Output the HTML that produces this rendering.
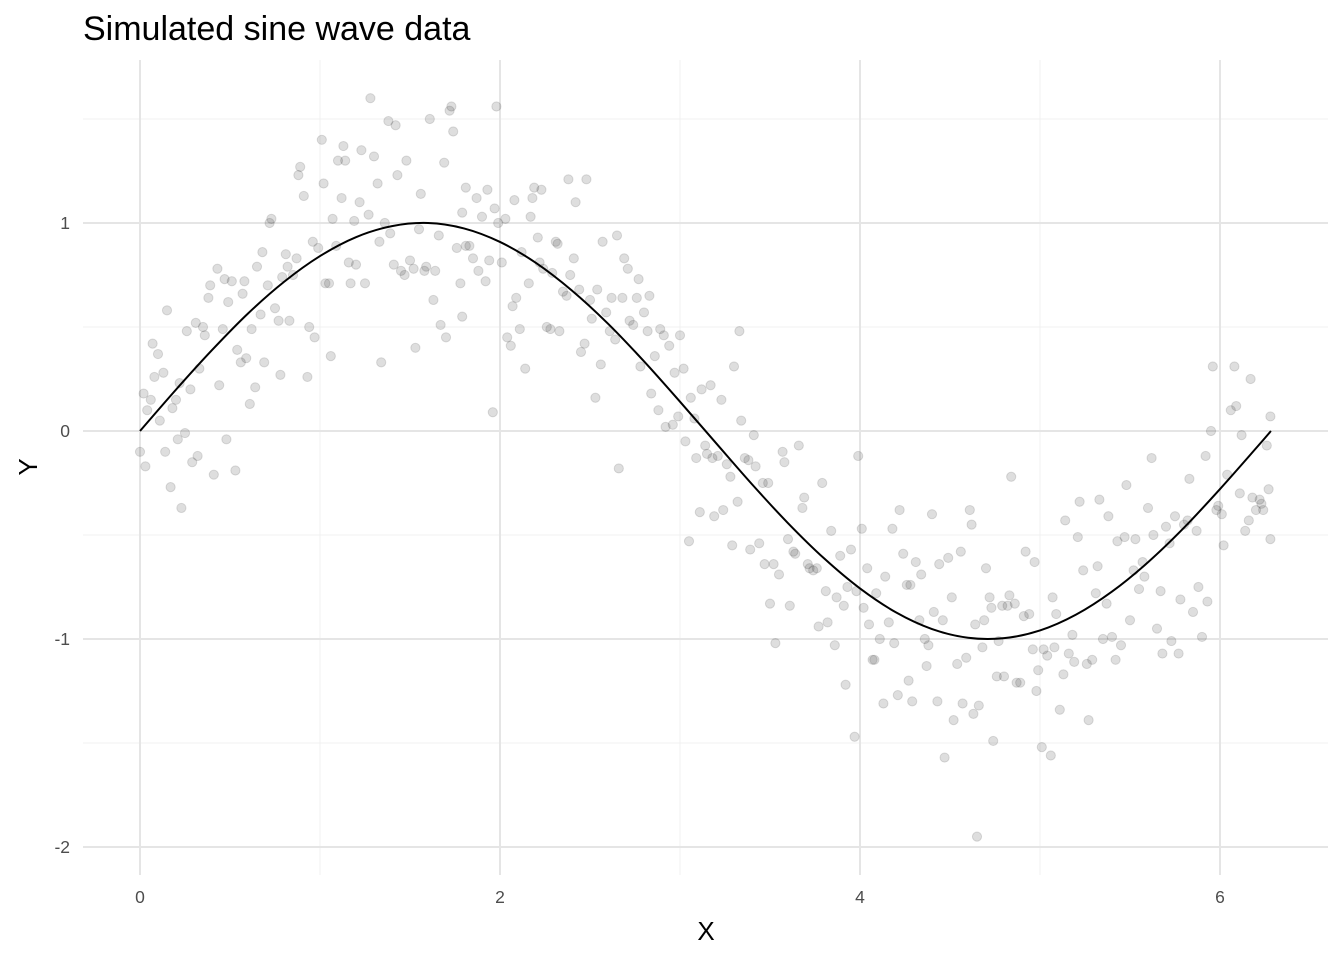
<!DOCTYPE html>
<html><head><meta charset="utf-8"><style>
body{margin:0;background:#fff;}
svg{display:block;font-family:"Liberation Sans",Arial,sans-serif;}
</style></head><body>
<svg id="chart" width="1344" height="960">
<text x="83" y="40" font-size="34" fill="#000">Simulated sine wave data</text>
<g id="grid"></g>
<g id="pts"></g>
<g id="line"></g>
<g id="ticks"></g>
<text x="706" y="940" font-size="26" text-anchor="middle" fill="#000">X</text>
<text x="0" y="0" font-size="26" text-anchor="middle" fill="#000" transform="translate(37,467) rotate(-90)">Y</text>
</svg>
<script>
const xTicks=[0,2,4,6];
const yTicks=[-2,-1,0,1];
const xMinor=[1,3,5];
const yMinor=[-1.5,-0.5,0.5,1.5];
const curveX=[0,0.2,0.4,0.6,0.8,1.0,1.2,1.4,1.6,1.8,2.0,2.2,2.4,2.6,2.8,3.0,3.2,3.4,3.6,3.8,4.0,4.2,4.4,4.6,4.8,5.0,5.2,5.4,5.6,5.8,6.0,6.2,6.283];
const curveY=[0,0.199,0.389,0.565,0.717,0.841,0.932,0.985,1.0,0.974,0.909,0.808,0.675,0.516,0.335,0.141,-0.058,-0.256,-0.443,-0.612,-0.757,-0.872,-0.952,-0.994,-0.996,-0.959,-0.883,-0.772,-0.631,-0.465,-0.279,-0.083,0];
const pointX=[0,0.02,0.03,0.04,0.06,0.07,0.08,0.1,0.11,0.13,0.14,0.15,0.17,0.18,0.2,0.21,0.22,0.23,0.25,0.26,0.28,0.29,0.31,0.32,0.33,0.35,0.36,0.38,0.39,0.41,0.43,0.44,0.46,0.47,0.48,0.49,0.51,0.53,0.54,0.56,0.57,0.58,0.59,0.61,0.62,0.64,0.65,0.67,0.68,0.69,0.71,0.72,0.73,0.75,0.77,0.78,0.79,0.81,0.82,0.83,0.85,0.87,0.88,0.89,0.91,0.93,0.94,0.96,0.97,0.99,1.01,1.02,1.03,1.05,1.06,1.07,1.09,1.1,1.12,1.13,1.14,1.16,1.17,1.19,1.2,1.22,1.23,1.25,1.27,1.28,1.3,1.32,1.33,1.34,1.36,1.38,1.39,1.41,1.42,1.43,1.45,1.47,1.48,1.5,1.52,1.53,1.55,1.56,1.58,1.59,1.61,1.63,1.64,1.66,1.67,1.69,1.7,1.72,1.73,1.74,1.76,1.78,1.79,1.81,1.79,1.81,1.83,1.85,1.87,1.88,1.9,1.92,1.93,1.94,1.96,1.97,1.98,1.99,2.01,2.03,2.04,2.06,2.07,2.08,2.09,2.11,2.12,2.14,2.16,2.17,2.18,2.19,2.21,2.22,2.23,2.24,2.26,2.28,2.29,2.31,2.32,2.33,2.35,2.37,2.38,2.39,2.41,2.42,2.44,2.45,2.47,2.48,2.5,2.51,2.53,2.54,2.56,2.57,2.59,2.61,2.62,2.64,2.65,2.66,2.68,2.69,2.71,2.72,2.74,2.76,2.77,2.78,2.8,2.82,2.83,2.84,2.86,2.88,2.89,2.91,2.92,2.94,2.96,2.97,2.99,3.0,3.02,3.03,3.05,3.06,3.08,3.09,3.11,3.12,3.14,3.15,3.17,3.18,3.19,3.21,3.23,3.24,3.26,3.28,3.29,3.3,3.32,3.33,3.34,3.36,3.38,3.39,3.41,3.42,3.44,3.46,3.47,3.49,3.5,3.52,3.53,3.55,3.57,3.58,3.6,3.61,3.63,3.64,3.66,3.68,3.69,3.71,3.72,3.74,3.76,3.77,3.79,3.81,3.82,3.84,3.86,3.87,3.89,3.91,3.92,3.93,3.95,3.97,3.98,3.99,4.01,4.02,4.04,4.05,4.07,4.08,4.09,4.11,4.13,4.14,4.16,4.18,4.19,4.21,4.22,4.24,4.26,4.27,4.28,4.29,4.31,4.33,4.34,4.36,4.37,4.38,4.4,4.41,4.43,4.44,4.46,4.47,4.49,4.51,4.52,4.54,4.56,4.57,4.59,4.61,4.62,4.63,4.64,4.65,4.66,4.68,4.69,4.7,4.72,4.73,4.74,4.76,4.77,4.79,4.8,4.82,4.83,4.84,4.86,4.87,4.89,4.91,4.92,4.94,4.96,4.97,4.98,4.99,5.01,5.02,5.04,5.06,5.07,5.08,5.09,5.11,5.13,5.14,5.16,5.18,5.19,5.21,5.22,5.24,5.26,5.27,5.29,5.31,5.32,5.33,5.35,5.37,5.38,5.4,5.42,5.43,5.45,5.47,5.48,5.5,5.52,5.53,5.55,5.57,5.58,5.6,5.62,5.63,5.65,5.67,5.68,5.7,5.72,5.73,5.75,5.77,5.78,5.8,5.82,5.83,5.85,5.87,5.88,5.9,5.92,5.93,5.95,5.96,5.98,5.99,6.01,6.02,6.04,6.06,6.08,6.09,6.11,6.12,6.14,6.16,6.17,6.18,6.2,6.22,6.23,6.24,6.26,6.27,6.28,6.28];
const pointY=[-0.1,0.18,-0.17,0.1,0.15,0.42,0.26,0.37,0.05,0.28,-0.1,0.58,-0.27,0.11,0.15,-0.04,0.23,-0.37,-0.01,0.48,0.2,-0.15,0.52,-0.12,0.3,0.5,0.46,0.64,0.7,-0.21,0.78,0.22,0.49,0.73,-0.04,0.62,0.72,-0.19,0.39,0.33,0.66,0.72,0.35,0.13,0.49,0.21,0.79,0.56,0.86,0.33,0.7,1.0,1.02,0.59,0.53,0.27,0.74,0.85,0.79,0.53,0.75,0.83,1.23,1.27,1.13,0.26,0.5,0.91,0.45,0.88,1.4,1.19,0.71,0.71,0.36,1.02,0.89,1.3,1.12,1.37,1.3,0.81,0.71,1.01,0.8,1.1,1.35,0.71,1.04,1.6,1.32,1.19,0.91,0.33,1.0,1.49,0.95,0.8,1.47,1.23,0.77,0.75,1.3,0.82,0.78,0.4,0.97,1.14,0.77,0.79,1.5,0.63,0.77,0.94,0.51,1.29,0.45,1.54,1.56,1.44,0.88,0.71,1.05,0.89,0.55,1.17,0.89,0.83,1.12,0.77,1.03,0.72,1.16,0.82,0.09,1.07,1.56,1.0,0.81,1.02,0.45,0.41,0.6,1.11,0.64,0.49,0.86,0.3,0.71,1.03,1.12,1.17,0.93,0.81,1.16,0.78,0.5,0.49,0.76,0.91,0.9,0.48,0.67,0.65,1.21,0.75,0.83,1.1,0.68,0.38,0.42,1.21,0.63,0.54,0.16,0.68,0.32,0.91,0.57,0.48,0.64,0.44,0.94,-0.18,0.64,0.83,0.78,0.53,0.51,0.64,0.73,0.31,0.57,0.48,0.65,0.18,0.36,0.1,0.49,0.46,0.02,0.41,0.03,0.28,0.07,0.46,0.3,-0.05,-0.53,0.16,0.06,-0.13,-0.39,0.2,-0.07,-0.11,0.22,-0.13,-0.41,-0.12,0.15,-0.38,-0.16,-0.22,-0.55,0.31,-0.34,0.48,0.05,-0.13,-0.14,-0.57,-0.02,-0.17,-0.54,-0.25,-0.64,-0.25,-0.83,-0.64,-1.02,-0.69,-0.1,-0.15,-0.52,-0.84,-0.58,-0.59,-0.07,-0.37,-0.32,-0.64,-0.66,-0.67,-0.66,-0.94,-0.25,-0.77,-0.92,-0.48,-1.03,-0.8,-0.6,-0.84,-1.22,-0.75,-0.57,-1.47,-0.77,-0.12,-0.47,-0.85,-0.66,-0.93,-1.1,-1.1,-0.78,-1.0,-1.31,-0.7,-0.92,-0.47,-1.02,-1.27,-0.38,-0.59,-0.74,-1.2,-0.74,-1.3,-0.63,-0.91,-0.69,-1.0,-1.13,-1.03,-0.4,-0.87,-1.3,-0.64,-0.91,-1.57,-0.61,-0.8,-1.39,-1.12,-0.58,-1.31,-1.09,-0.38,-0.45,-1.36,-0.93,-1.95,-1.32,-1.04,-0.91,-0.66,-0.8,-0.85,-1.49,-1.18,-1.01,-0.84,-1.18,-0.84,-0.79,-0.22,-0.83,-1.21,-1.21,-0.89,-0.58,-0.88,-1.05,-0.63,-1.25,-1.15,-1.52,-1.05,-1.08,-1.56,-0.8,-1.04,-0.88,-1.34,-1.17,-0.43,-1.07,-0.98,-1.11,-0.51,-0.34,-0.67,-1.12,-1.39,-1.1,-0.78,-0.65,-0.33,-1.0,-0.83,-0.41,-0.99,-1.1,-0.53,-1.03,-0.51,-0.26,-0.91,-0.67,-0.52,-0.76,-0.63,-0.7,-0.37,-0.13,-0.5,-0.95,-0.77,-1.07,-0.46,-0.54,-1.01,-0.41,-1.07,-0.81,-0.45,-0.43,-0.23,-0.87,-0.48,-0.75,-0.99,-0.12,-0.82,0.0,0.31,-0.38,-0.36,-0.4,-0.55,-0.21,0.1,0.31,0.12,-0.3,-0.02,-0.48,-0.43,0.25,-0.32,-0.38,-0.33,-0.35,-0.38,-0.07,-0.28,0.07,-0.52];

const NS='http://www.w3.org/2000/svg';
const L=83,R=1328,T=60,B=875;
function sx(v){return 140+v*180;}
function sy(v){return 431-v*208;}
function mk(tag,attrs,parent){const e=document.createElementNS(NS,tag);for(const k in attrs)e.setAttribute(k,attrs[k]);parent.appendChild(e);return e;}
const grid=document.getElementById('grid');
xMinor.forEach(v=>{const e=mk('line',{x1:sx(v),x2:sx(v),y1:T,y2:B,stroke:'#f0f0f0','stroke-width':1},grid);

});
yMinor.forEach(v=>{const e=mk('line',{x1:L,x2:R,y1:sy(v),y2:sy(v),stroke:'#f0f0f0','stroke-width':1},grid);

});
xTicks.forEach(v=>{const e=mk('line',{x1:sx(v),x2:sx(v),y1:T,y2:B,stroke:'#e5e5e5','stroke-width':2},grid);

});
yTicks.forEach(v=>{const e=mk('line',{x1:L,x2:R,y1:sy(v),y2:sy(v),stroke:'#e5e5e5','stroke-width':2},grid);

});
const ticks=document.getElementById('ticks');
xTicks.forEach(v=>{const t=mk('text',{x:sx(v),y:903,'font-size':17.5,fill:'#4d4d4d','text-anchor':'middle'},ticks);t.textContent=v;

});
yTicks.forEach(v=>{const t=mk('text',{x:70,y:sy(v)+6,'font-size':17.5,fill:'#4d4d4d','text-anchor':'end'},ticks);t.textContent=v;

});
const pts=document.getElementById('pts');
pointX.forEach((v,i)=>{const c=mk('circle',{cx:sx(v),cy:sy(pointY[i]),r:4.6,fill:'rgba(0,0,0,0.13)',stroke:'rgba(0,0,0,0.12)','stroke-width':1},pts);

});
const P=curveX.map((v,i)=>[sx(v),sy(curveY[i])]);
let d='M'+P[0][0]+','+P[0][1];
for(let i=0;i<P.length-1;i++){const p0=P[Math.max(0,i-1)],p1=P[i],p2=P[i+1],p3=P[Math.min(P.length-1,i+2)];
const c1=[p1[0]+(p2[0]-p0[0])/6,p1[1]+(p2[1]-p0[1])/6],c2=[p2[0]-(p3[0]-p1[0])/6,p2[1]-(p3[1]-p1[1])/6];
d+=' C'+c1[0]+','+c1[1]+' '+c2[0]+','+c2[1]+' '+p2[0]+','+p2[1];}
const path=mk('path',{d:d,fill:'none',stroke:'#000','stroke-width':2},document.getElementById('line'));


</script>
</body></html>
